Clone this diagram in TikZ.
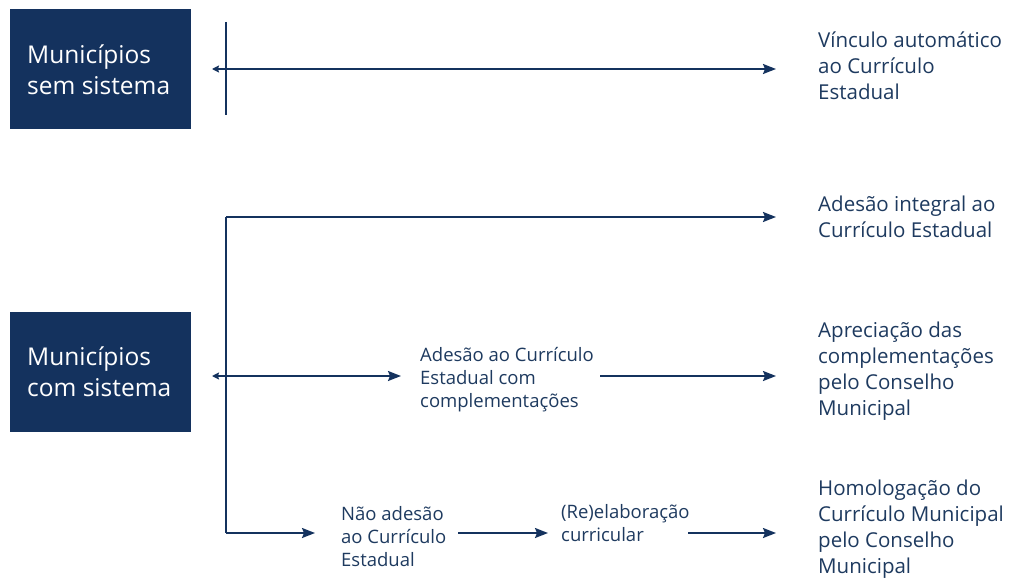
\documentclass[tikz,border=0pt]{standalone}
\usepackage{fontspec}
\setmainfont{Open Sans}
\usetikzlibrary{arrows.meta}
\definecolor{navy}{HTML}{14325E}
\definecolor{ink}{HTML}{1E3A5F}
\tikzset{
  x=1pt, y=-1pt,
  boxnode/.style={fill=navy, draw=none, minimum width=181pt, minimum height=120pt, inner sep=0pt},
  boxtext/.style={text=white, align=left, anchor=west, inner sep=0pt, font=\fontsize{24.5}{31}\selectfont},
  rtext/.style={text=ink, align=left, anchor=west, inner sep=0pt, font=\fontsize{20.5}{26}\selectfont},
  mtext/.style={text=ink, align=left, anchor=west, inner sep=0pt, font=\fontsize{18.5}{23}\selectfont},
  conn/.style={draw=navy, line width=1.8pt, -{Stealth[length=13pt,width=10pt,inset=2pt]}},
  lconn/.style={draw=navy, line width=1.8pt, -{Stealth[length=7pt,width=7pt,inset=1pt]}},
  bar/.style={draw=navy, line width=2pt}
}
\begin{document}
\begin{tikzpicture}
\useasboundingbox (0,0) rectangle (1009,578);
% boxes
\node[boxnode] (b1) at (100.5,69) {};
\node[boxtext] (b1t) at (27,70) {Municípios\\sem sistema};
\node[boxnode] (b2) at (100.5,371.5) {};
\node[boxtext] (b2t) at (27,372) {Municípios\\com sistema};
% top vertical bar
\coordinate (t1) at (226,22);
\coordinate (t2) at (226,115);
\draw[bar] (t1) -- (t2);
\coordinate (tm) at (226,69);
\coordinate (tl) at (212,69);
\node[rtext] (v) at (818,66) {Vínculo automático\\ao Currículo\\Estadual};
\draw[conn] (tm) -- ([xshift=-42pt]v.west |- tm);
\draw[lconn] (tm) -- (tl);
% lower tree
\coordinate (s1) at (226,217);
\coordinate (s2) at (226,376);
\coordinate (s3) at (226,533);
\coordinate (sl) at (212,376);
\draw[bar] (s1) -- (s3);
\node[rtext] (ai) at (818,217) {Adesão integral ao\\Currículo Estadual};
\node[rtext] (ap) at (818,371) {Apreciação das\\complementações\\pelo Conselho\\Municipal};
\node[rtext] (ho) at (818,529) {Homologação do\\Currículo Municipal\\pelo Conselho\\Municipal};
\node[mtext] (ac) at (420,380) {Adesão ao Currículo\\Estadual com\\complementações};
\node[mtext] (na) at (341,537) {Não adesão\\ao Currículo\\Estadual};
\node[mtext] (re) at (561,523) {(Re)elaboração\\curricular};
\draw[conn] (s1) -- (776,217);
\draw[conn] (s2) -- (401,376);
\draw[lconn] (s2) -- (sl);
\draw[conn] (600,376) -- (776,376);
\draw[conn] (s3) -- (315,533);
\draw[conn] (458,533) -- (548,533);
\draw[conn] (688,533) -- (776,533);
\end{tikzpicture}
\end{document}
